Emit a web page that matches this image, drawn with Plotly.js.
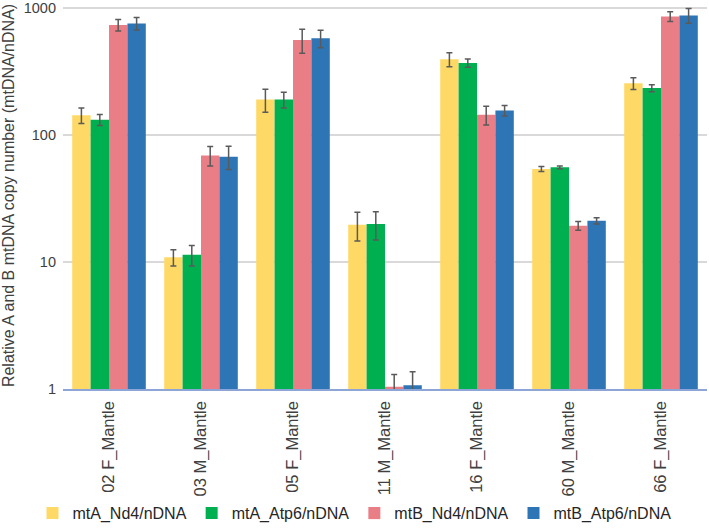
<!DOCTYPE html>
<html>
<head>
<meta charset="utf-8">
<script src="https://cdn.plot.ly/plotly-3.0.1.min.js"></script>
<style>html,body{margin:0;padding:0;background:#fff;}#chart{width:709px;height:528px;}</style>
</head>
<body>
<div id="chart"></div>
<script>
const categories = ["02 F_Mantle", "03 M_Mantle", "05 F_Mantle", "11 M_Mantle", "16 F_Mantle", "60 M_Mantle", "66 F_Mantle"];
const seriesNames = ["mtA_Nd4/nDNA", "mtA_Atp6/nDNA", "mtB_Nd4/nDNA", "mtB_Atp6/nDNA"];
const mtA_Nd4 = [143, 10.9, 190, 19.6, 395, 54, 255];
const mtA_Nd4_err = [20, 1.6, 39, 5, 50, 2.5, 27];
const mtA_Atp6 = [132, 11.4, 190, 19.9, 369, 55.6, 234];
const mtA_Atp6_err = [13, 2.1, 27, 5, 27, 1.5, 15];
const mtB_Nd4 = [735, 69, 560, 1.04, 144, 19.3, 857];
const mtB_Nd4_err = [75, 12, 120, 0.26, 24, 1.5, 75];
const mtB_Atp6 = [756, 67.4, 577, 1.07, 156, 21.1, 874];
const mtB_Atp6_err = [85, 14, 90, 0.3, 15, 1.2, 115];
const yTicks = [1, 10, 100, 1000];
const colors = ["#FFD966", "#00B050", "#EA7E87", "#2E75B6"];

const values = [mtA_Nd4, mtA_Atp6, mtB_Nd4, mtB_Atp6];
const errs = [mtA_Nd4_err, mtA_Atp6_err, mtB_Nd4_err, mtB_Atp6_err];

const traces = values.map((v, i) => ({
  type: "bar",
  name: seriesNames[i],
  x: categories,
  y: v,
  marker: {color: colors[i]},
  error_y: {type: "data", array: errs[i], visible: true, color: "#5a5a5a", thickness: 1.5, width: 3}
}));

const layout = {
  width: 709, height: 528,
  margin: {l: 63, r: 2, t: 2, b: 139},
  paper_bgcolor: "#fff", plot_bgcolor: "#fff",
  font: {family: "Liberation Sans, Arial, sans-serif", size: 16, color: "#404040"},
  barmode: "group",
  bargap: 0.2,
  bargroupgap: 0,
  showlegend: true,
  legend: {orientation: "h", xref: "container", x: 0.5, xanchor: "center", yref: "container", y: 0.028, yanchor: "middle",
           bgcolor: "rgba(0,0,0,0)",
           font: {size: 16, color: "#262626"}, traceorder: "normal", itemwidth: 30, tracegroupgap: 0},
  xaxis: {
    tickangle: -90,
    automargin: false,
    showline: true, linecolor: "#8EA5D8", linewidth: 1.5,
    ticks: "", showgrid: false,
    ticklabelstandoff: 4,
    tickfont: {size: 16.5, color: "#404040"}
  },
  yaxis: {
    type: "log",
    automargin: false,
    range: [0, 3.047],
    tickvals: yTicks,
    ticktext: yTicks.map(String),
    ticklabeloverflow: "allow",
    showgrid: true, gridcolor: "#d9d9d9", gridwidth: 1.5,
    zeroline: false, showline: false, ticks: "",
    ticklabelstandoff: 6,
    tickfont: {size: 14.5, color: "#404040"},
    title: {text: "Relative A and B mtDNA copy number (mtDNA/nDNA)", font: {size: 16, color: "#404040"}, standoff: 6}
  }
};

Plotly.newPlot("chart", traces, layout, {displayModeBar: false, staticPlot: true});
</script>
</body>
</html>
